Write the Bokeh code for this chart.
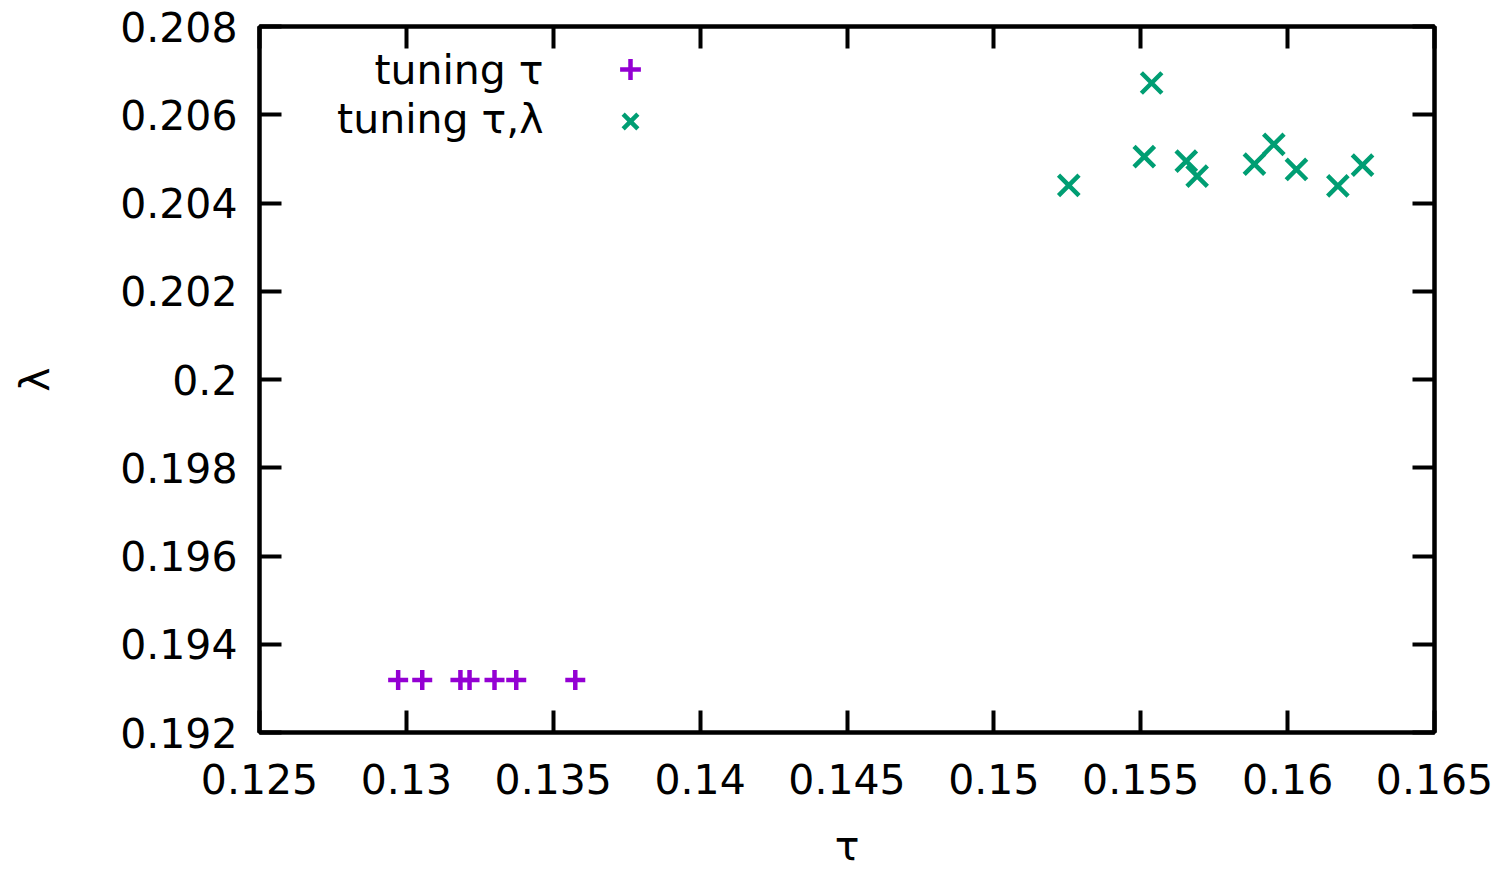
from bokeh.plotting import figure
from bokeh.models import (FixedTicker, LinearAxis, Range1d, Legend, LegendItem, Label)
from bokeh.embed import file_html
from bokeh.resources import INLINE

# Data
tau_tuning_tau = [0.12972, 0.13054, 0.13184, 0.13215, 0.13300, 0.13374, 0.13575]
lam_tuning_tau = [0.19319, 0.19319, 0.19319, 0.19319, 0.19319, 0.19319, 0.19319]

tau_tuning_both = [0.15255, 0.15512, 0.15537, 0.15655, 0.15692, 0.15887, 0.15953, 0.16030, 0.16171, 0.16255]
lam_tuning_both = [0.20440, 0.20505, 0.20672, 0.20495, 0.20461, 0.20488, 0.20533, 0.20476, 0.20439, 0.20486]

x_ticks = [0.125, 0.13, 0.135, 0.14, 0.145, 0.15, 0.155, 0.16, 0.165]
x_tick_labels = ["0.125", "0.13", "0.135", "0.14", "0.145", "0.15", "0.155", "0.16", "0.165"]
y_ticks = [0.192, 0.194, 0.196, 0.198, 0.2, 0.202, 0.204, 0.206, 0.208]
y_tick_labels = ["0.192", "0.194", "0.196", "0.198", "0.2", "0.202", "0.204", "0.206", "0.208"]

x_title = "τ"
y_title = "λ"
series_names = ["tuning τ", "tuning τ,λ"]
series_colors = ["#9400D3", "#009E73"]

FONT = "DejaVu Sans"
FS = "41px"

p = figure(width=1506, height=872, output_backend="svg", toolbar_location=None,
           x_range=Range1d(0.125, 0.165), y_range=Range1d(0.192, 0.208),
           min_border_left=259, min_border_right=72, min_border_top=26, min_border_bottom=140,
           x_axis_label=x_title, y_axis_label=y_title)
p.grid.visible = False
p.background_fill_color = "white"
p.border_fill_color = "white"
p.outline_line_color = "black"
p.outline_line_width = 4

def style_axis(ax, ticks, labels, show_labels=True):
    ax.ticker = FixedTicker(ticks=ticks)
    ax.axis_line_width = 4
    ax.axis_line_color = "black"
    ax.major_tick_line_width = 4
    ax.major_tick_line_color = "black"
    ax.major_tick_in = 22
    ax.major_tick_out = 0
    ax.minor_tick_line_color = None
    ax.major_label_text_font = FONT
    ax.major_label_text_color = "black"
    ax.major_label_text_font_size = FS
    if show_labels:
        ax.major_label_overrides = {t: l for t, l in zip(ticks, labels)}
    else:
        ax.major_label_overrides = {t: "" for t in ticks}
        ax.major_label_standoff = 0

xa = p.xaxis[0]
ya = p.yaxis[0]
style_axis(xa, x_ticks, x_tick_labels)
style_axis(ya, y_ticks, y_tick_labels)
xa.major_label_standoff = 31
ya.major_label_standoff = 22
for ax in (xa, ya):
    ax.axis_label_text_font = FONT
    ax.axis_label_text_font_size = FS
    ax.axis_label_text_font_style = "normal"
    ax.axis_label_text_color = "black"
xa.axis_label_standoff = 25
ya.axis_label_standoff = 58

top = LinearAxis()
right = LinearAxis()
style_axis(top, x_ticks, x_tick_labels, show_labels=False)
style_axis(right, y_ticks, y_tick_labels, show_labels=False)
p.add_layout(top, "above")
p.add_layout(right, "right")

r1 = p.scatter(tau_tuning_tau, lam_tuning_tau, marker="cross", size=20,
               line_color=series_colors[0], line_width=4.5)
r2 = p.scatter(tau_tuning_both, lam_tuning_both, marker="x", size=29,
               line_color=series_colors[1], line_width=4.5)

legend = Legend(items=[LegendItem(label="", renderers=[r1]),
                       LegendItem(label="", renderers=[r2])],
                location=(345, 585), orientation="vertical",
                glyph_width=52, glyph_height=52, label_height=52, label_width=0,
                label_standoff=0, spacing=0, padding=0, margin=0,
                border_line_color=None, background_fill_alpha=0,
                label_text_font_size=FS)
p.add_layout(legend, "center")

label_y = [0.20701, 0.20590]
for name, yy in zip(series_names, label_y):
    p.add_layout(Label(x=0.13467, y=yy, text=name, text_align="right", text_baseline="middle",
                       text_font=FONT, text_font_size=FS, text_color="black"))

open("out.html", "w").write(file_html(p, INLINE))
